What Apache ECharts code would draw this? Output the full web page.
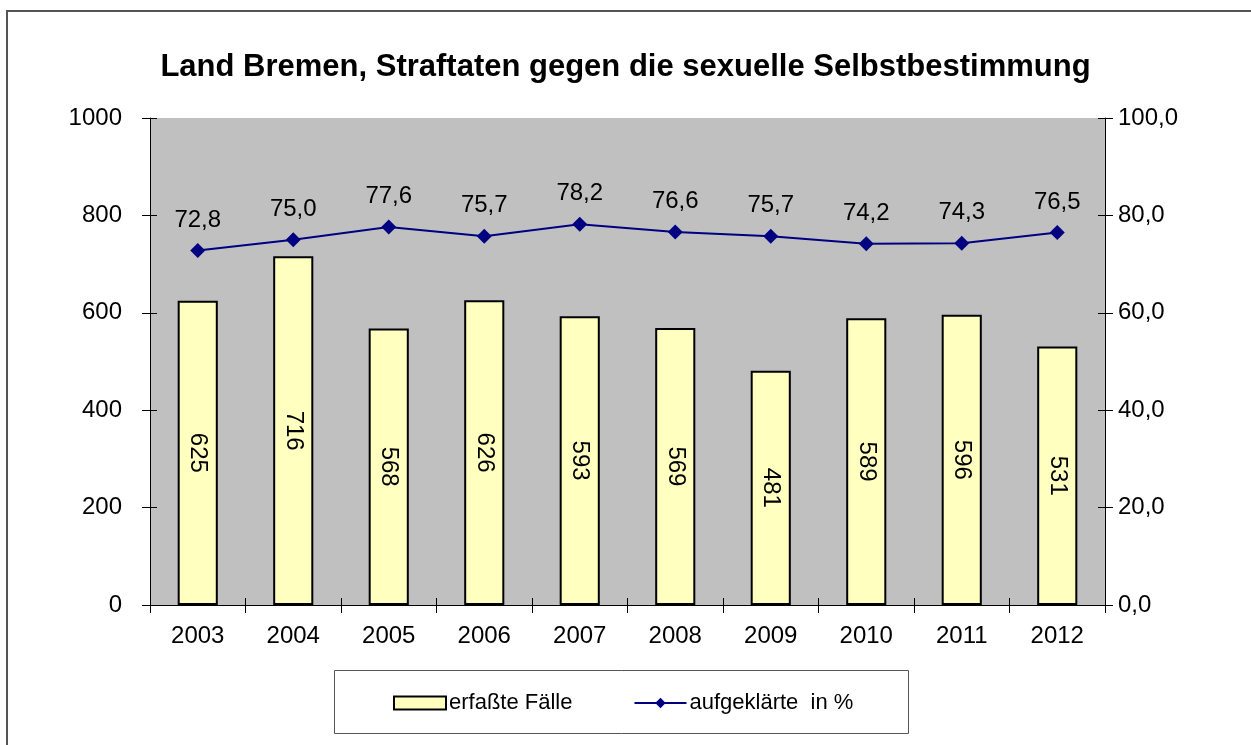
<!DOCTYPE html>
<html><head><meta charset="utf-8">
<script src="https://cdn.jsdelivr.net/npm/echarts@6/dist/echarts.min.js"></script>
<style>html,body{margin:0;padding:0;background:#fff}#c{width:1251px;height:745px}</style>
</head><body><div id="c"></div>
<script>
const years = ['2003','2004','2005','2006','2007','2008','2009','2010','2011','2012'];
const cases = [625,716,568,626,593,569,481,589,596,531];
const clearedPct = [72.8,75.0,77.6,75.7,78.2,76.6,75.7,74.2,74.3,76.5];
const titleText = 'Land Bremen, Straftaten gegen die sexuelle Selbstbestimmung';
const seriesNames = ['erfaßte Fälle','aufgeklärte  in %'];

const F = '"Liberation Sans", Arial, sans-serif';
const chart = echarts.init(document.getElementById('c'));
const fmt1 = v => v.toFixed(1).replace('.', ',');
const tickOnly = {axisLine: {show: false}, axisLabel: {show: false}, splitLine: {show: false},
  axisTick: {show: true, inside: true, length: 7, lineStyle: {color: '#000'}}};
chart.setOption({
  animation: false,
  textStyle: {fontFamily: F},
  title: {text: titleText, left: 'center', top: 47,
    textStyle: {fontFamily: F, fontSize: 31, fontWeight: 'bold', color: '#000'}},
  graphic: [
    {type: 'rect', shape: {x: 7, y: 11, width: 1300, height: 800}, style: {fill: 'none', stroke: '#555', lineWidth: 2}, z: -1},
    {type: 'rect', shape: {x: 334.5, y: 670.5, width: 574, height: 63}, style: {fill: 'none', stroke: '#555', lineWidth: 1}, z: -1}
  ],
  legend: {
    top: 687, left: 388, itemGap: 61, itemWidth: 52, itemHeight: 13,
    textStyle: {fontFamily: F, fontSize: 22, color: '#000', padding: [0,0,0,-2]},
    data: [
      {name: seriesNames[0], icon: 'rect'},
      {name: seriesNames[1]}
    ]
  },
  grid: {left: 150, right: 146, top: 118, bottom: 140, show: true, backgroundColor: '#C0C0C0', borderWidth: 0},
  xAxis: [{
    type: 'category', data: years,
    axisLine: {lineStyle: {color: '#000', width: 1}},
    axisTick: {show: true, length: 8, lineStyle: {color: '#000'}},
    axisLabel: {fontFamily: F, fontSize: 24, color: '#000', margin: 19}
  }, Object.assign({type: 'category', data: years, position: 'bottom'}, tickOnly)],
  yAxis: [
    {type: 'value', min: 0, max: 1000, interval: 200, position: 'left',
     axisLine: {show: true, lineStyle: {color: '#000'}},
     axisTick: {show: true, length: 8, lineStyle: {color: '#000'}},
     splitLine: {show: false},
     axisLabel: {fontFamily: F, fontSize: 24, color: '#000', margin: 28, formatter: v => String(v)}},
    {type: 'value', min: 0, max: 100, interval: 20, position: 'right',
     axisLine: {show: true, lineStyle: {color: '#000'}},
     axisTick: {show: true, length: 8, lineStyle: {color: '#000'}},
     splitLine: {show: false},
     axisLabel: {fontFamily: F, fontSize: 24, color: '#000', margin: 13, formatter: v => fmt1(v)}},
    Object.assign({type: 'value', min: 0, max: 1000, interval: 200, position: 'left'}, tickOnly),
    Object.assign({type: 'value', min: 0, max: 100, interval: 20, position: 'right'}, tickOnly)
  ],
  series: [
    {name: seriesNames[0], type: 'bar', data: cases, yAxisIndex: 0, barWidth: '42%',
     itemStyle: {color: '#FFFFC0', borderColor: '#000', borderWidth: 2},
     label: {show: true, position: 'inside', rotate: -90, fontFamily: F, fontSize: 24, color: '#000'}},
    {name: seriesNames[1], type: 'line', data: clearedPct, yAxisIndex: 1,
     symbol: 'diamond', symbolSize: 15,
     lineStyle: {color: '#000080', width: 2}, itemStyle: {color: '#000080'},
     label: {show: true, position: 'top', distance: 11, fontFamily: F, fontSize: 24, color: '#000',
       formatter: p => fmt1(p.value)}}
  ]
});
</script></body></html>
